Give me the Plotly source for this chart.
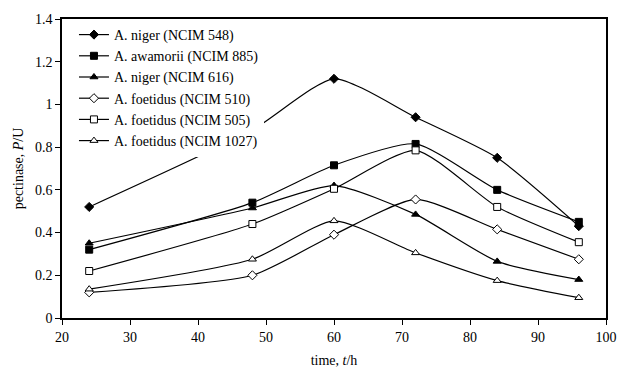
import plotly.graph_objects as go

time_h = [24, 48, 60, 72, 84, 96]
niger_548 = [0.52, 0.88, 1.12, 0.94, 0.75, 0.43]
awamorii_885 = [0.32, 0.54, 0.715, 0.815, 0.60, 0.45]
niger_616 = [0.35, 0.515, 0.62, 0.485, 0.265, 0.18]
foetidus_510 = [0.12, 0.20, 0.39, 0.555, 0.415, 0.275]
foetidus_505 = [0.22, 0.44, 0.605, 0.785, 0.52, 0.355]
foetidus_1027 = [0.135, 0.275, 0.455, 0.305, 0.175, 0.095]

series = [
    ("A. niger (NCIM 548)", niger_548, "diamond", "black"),
    ("A. awamorii (NCIM 885)", awamorii_885, "square", "black"),
    ("A. niger (NCIM 616)", niger_616, "triangle-up", "black"),
    ("A. foetidus (NCIM 510)", foetidus_510, "diamond", "white"),
    ("A. foetidus (NCIM 505)", foetidus_505, "square", "white"),
    ("A. foetidus (NCIM 1027)", foetidus_1027, "triangle-up", "white"),
]

fig = go.Figure()
for name, vals, sym, fill in series:
    fig.add_trace(go.Scatter(
        x=time_h, y=vals, name=name, mode="lines+markers",
        line=dict(color="black", width=1.2, shape="spline", smoothing=0.6),
        marker=dict(symbol=sym, size=7, color=fill,
                    line=dict(color="black", width=1)),
    ))

font = "Times New Roman, Liberation Serif, serif"
fig.update_layout(
    width=629, height=378,
    margin=dict(l=62, r=19, t=18, b=56),
    paper_bgcolor="white", plot_bgcolor="white",
    font=dict(family=font, size=14, color="black"),
    showlegend=True,
    legend=dict(x=0.022, y=1.0, xanchor="left", yanchor="top",
                bgcolor="white", borderwidth=0,
                font=dict(family=font, size=14, color="black"),
                tracegroupgap=0, itemwidth=30),
    xaxis=dict(range=[20, 100], dtick=10, tick0=20, showgrid=False, zeroline=False,
               showline=True, linecolor="black", linewidth=1.5, mirror=True,
               ticks="outside", ticklen=5, tickcolor="black",
               title=dict(text="time, <i>t</i>/h", font=dict(size=14), standoff=12)),
    yaxis=dict(range=[0, 1.4], dtick=0.2, showgrid=False, zeroline=False,
               showline=True, linecolor="black", linewidth=1.5, mirror=True,
               ticks="outside", ticklen=5, tickcolor="black",
               title=dict(text="pectinase, <i>P</i>/U", font=dict(size=14), standoff=8)),
)

fig.write_html("out.html")
